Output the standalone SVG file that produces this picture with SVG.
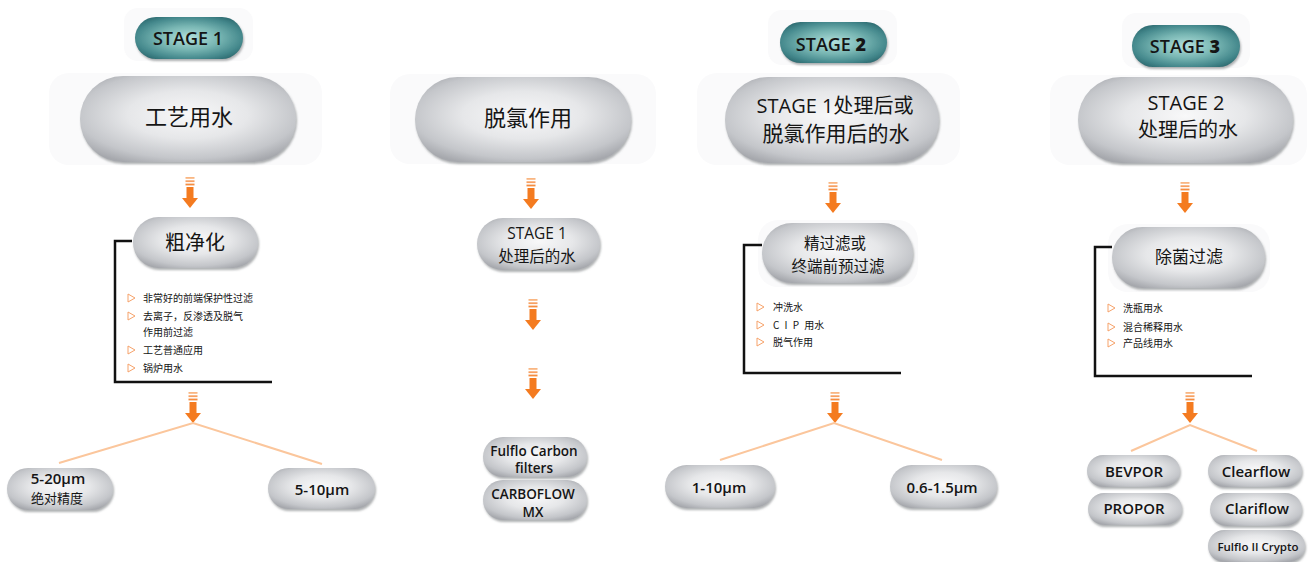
<svg xmlns="http://www.w3.org/2000/svg" width="1311" height="562" viewBox="0 0 1311 562">
<defs>
<radialGradient id="gp" cx="0.5" cy="0.45" r="0.62">
<stop offset="0" stop-color="#f8f8f9"/>
<stop offset="0.45" stop-color="#e6e7e9"/>
<stop offset="0.82" stop-color="#c4c6ca"/>
<stop offset="1" stop-color="#a6a8ad"/>
</radialGradient>
<radialGradient id="gt" cx="0.5" cy="0.5" r="0.62">
<stop offset="0" stop-color="#b2e0dc"/>
<stop offset="0.45" stop-color="#78b6b3"/>
<stop offset="0.8" stop-color="#44888c"/>
<stop offset="1" stop-color="#2a676d"/>
</radialGradient>
<filter id="sh" x="-10%" y="-20%" width="120%" height="150%">
<feDropShadow dx="1" dy="2" stdDeviation="1.2" flood-color="#6d6f73" flood-opacity="0.55"/>
</filter>
<g id="arr">
<rect x="-4.5" y="0" width="9" height="1.8" fill="#f9b682"/>
<rect x="-4.5" y="3.3" width="9" height="1.8" fill="#f7a062"/>
<rect x="-4.5" y="6.6" width="9" height="1.8" fill="#f58c3f"/>
<rect x="-3.5" y="10" width="7" height="12" fill="#f47b20"/>
<polygon points="-8,21 8,21 0,31" fill="#f47b20"/>
</g>
<polygon id="tri" points="0,-4 0,4 7,0" fill="none" stroke="#f6a26a" stroke-width="1"/>
</defs>
<style>
.bg{fill:#fafafb}
.p{fill:url(#gp);filter:url(#sh)}
.t{fill:url(#gt);filter:url(#sh)}
text{fill:#151515;text-anchor:middle;font-family:"Open Sans","Noto Sans CJK SC",sans-serif}
.cj{font-family:"Noto Sans CJK SC","Open Sans",sans-serif}
.b{font-weight:600}
.li{font-size:10px;text-anchor:start;font-family:"Noto Sans CJK SC",sans-serif}
.br{fill:none;stroke:#111;stroke-width:2.5}
.ln{stroke:#fbc69c;stroke-width:2;fill:none}
</style>

<!-- Column 1 -->
<g id="stage1">
<rect class="bg" x="124" y="8" width="129" height="53" rx="14"/>
<rect class="t" x="135" y="17" width="108" height="42" rx="21"/>
<text class="b" x="188" y="45" font-size="18">STAGE 1</text>
</g>
<g id="n-process-water">
<rect class="bg" x="49" y="73" width="273" height="92" rx="20"/>
<rect class="p" x="80" y="76" width="216" height="86" rx="43"/>
<text class="cj" x="189" y="125" font-size="22">工艺用水</text>
</g>
<g id="n-coarse">
<rect class="p" x="133" y="217" width="125" height="51" rx="25.5"/>
<text class="cj" x="195" y="250" font-size="20">粗净化</text>
</g>
<g id="list1">
<use href="#tri" x="128" y="298"/>
<text class="li" x="143" y="302">非常好的前端保护性过滤</text>
<use href="#tri" x="128" y="316"/>
<text class="li" x="143" y="320">去离子，反渗透及脱气</text>
<text class="li" x="143" y="336">作用前过滤</text>
<use href="#tri" x="128" y="350"/>
<text class="li" x="143" y="354">工艺普通应用</text>
<use href="#tri" x="128" y="368"/>
<text class="li" x="143" y="372">锅炉用水</text>
</g>
<g id="n-5-20">
<rect class="p" x="7" y="468" width="106" height="42" rx="21"/>
<text class="b" x="58" y="484" font-size="15">5-20μm</text>
<text class="cj" x="57" y="503" font-size="13">绝对精度</text>
</g>
<g id="n-5-10">
<rect class="p" x="268" y="468" width="107" height="41" rx="20.5"/>
<text class="b" x="322" y="495" font-size="15">5-10μm</text>
</g>

<!-- Column 2 -->
<g id="n-dechlor">
<rect class="bg" x="390" y="74" width="266" height="90" rx="20"/>
<rect class="p" x="415" y="77" width="216" height="85" rx="42.5"/>
<text class="cj" x="528" y="126" font-size="22">脱氯作用</text>
</g>
<g id="n-stage1-water">
<rect class="p" x="477" y="218" width="123" height="52" rx="26"/>
<text x="537" y="239" font-size="15.5">STAGE 1</text>
<text class="cj" x="537" y="262" font-size="15.5">处理后的水</text>
</g>
<g id="n-fulflo-carbon">
<rect class="p" x="483" y="437" width="104" height="40" rx="20"/>
<text class="b" x="534" y="456" font-size="13.5">Fulflo Carbon</text>
<text class="b" x="534" y="473" font-size="13.5">filters</text>
</g>
<g id="n-carboflow">
<rect class="p" x="483" y="480" width="104" height="40" rx="20"/>
<text class="b" x="533" y="499" font-size="13.5">CARBOFLOW</text>
<text class="b" x="533" y="517" font-size="13.5">MX</text>
</g>

<!-- Column 3 -->
<g id="stage2">
<rect class="bg" x="768" y="10" width="129" height="55" rx="14"/>
<rect class="t" x="780" y="22" width="107" height="41" rx="20.5"/>
<text class="b" x="831" y="51" font-size="18">STAGE <tspan font-weight="800">2</tspan></text>
</g>
<g id="n-stage1-or-dechlor">
<rect class="bg" x="697" y="73" width="263" height="92" rx="20"/>
<rect class="p" x="725" y="77" width="214" height="86" rx="43"/>
<text x="835" y="113" font-size="20">STAGE 1<tspan class="cj">处理后或</tspan></text>
<text class="cj" x="836" y="141" font-size="21">脱氯作用后的水</text>
</g>
<g id="n-fine">
<rect class="bg" x="758" y="220" width="160" height="67" rx="20"/>
<rect class="p" x="762" y="223" width="151" height="60" rx="30"/>
<text class="cj" x="835" y="249" font-size="15.5">精过滤或</text>
<text class="cj" x="838" y="272" font-size="15.5">终端前预过滤</text>
</g>
<g id="list2">
<use href="#tri" x="757" y="307"/>
<text class="li" x="773" y="311">冲洗水</text>
<use href="#tri" x="757" y="325"/>
<text class="li" x="773" y="329" word-spacing="3">C I P 用水</text>
<use href="#tri" x="757" y="342"/>
<text class="li" x="773" y="346">脱气作用</text>
</g>
<g id="n-1-10">
<rect class="p" x="665" y="465" width="110" height="43" rx="21.5"/>
<text class="b" x="719" y="493" font-size="15">1-10μm</text>
</g>
<g id="n-06-15">
<rect class="p" x="890" y="465" width="107" height="43" rx="21.5"/>
<text class="b" x="942" y="493" font-size="15">0.6-1.5μm</text>
</g>

<!-- Column 4 -->
<g id="stage3">
<rect class="bg" x="1122" y="13" width="128" height="55" rx="14"/>
<rect class="t" x="1132" y="25" width="108" height="42" rx="21"/>
<text class="b" x="1185" y="53" font-size="18">STAGE <tspan font-weight="800">3</tspan></text>
</g>
<g id="n-stage2-water">
<rect class="bg" x="1050" y="75" width="257" height="90" rx="20"/>
<rect class="p" x="1078" y="77" width="215" height="86" rx="43"/>
<text x="1186" y="110" font-size="20">STAGE 2</text>
<text class="cj" x="1188" y="137" font-size="20">处理后的水</text>
</g>
<g id="n-sterile">
<rect class="bg" x="1108" y="224" width="162" height="68" rx="20"/>
<rect class="p" x="1112" y="227" width="153" height="61" rx="30.5"/>
<text class="cj" x="1189" y="263" font-size="17">除菌过滤</text>
</g>
<g id="list3">
<use href="#tri" x="1108" y="308"/>
<text class="li" x="1123" y="312">洗瓶用水</text>
<use href="#tri" x="1108" y="327"/>
<text class="li" x="1123" y="331">混合稀释用水</text>
<use href="#tri" x="1108" y="343"/>
<text class="li" x="1123" y="347">产品线用水</text>
</g>
<g id="n-bevpor">
<rect class="p" x="1087" y="455" width="93" height="32" rx="16"/>
<text class="b" x="1134" y="477" font-size="15">BEVPOR</text>
</g>
<g id="n-propor">
<rect class="p" x="1088" y="493" width="94" height="32" rx="16"/>
<text class="b" x="1134" y="514" font-size="15">PROPOR</text>
</g>
<g id="n-clearflow">
<rect class="p" x="1208" y="455" width="94" height="32" rx="16"/>
<text class="b" x="1256" y="477" font-size="15">Clearflow</text>
</g>
<g id="n-clariflow">
<rect class="p" x="1210" y="493" width="92" height="33" rx="16.5"/>
<text class="b" x="1257" y="514" font-size="15">Clariflow</text>
</g>
<g id="n-fulflo-crypto">
<rect class="p" x="1208" y="530" width="97" height="32" rx="16"/>
<text class="b" x="1258" y="551" font-size="11.5">Fulflo II Crypto</text>
</g>

<!-- Connectors -->
<g id="connectors">
<use href="#arr" x="190" y="177"/>
<path class="br" d="M132,241 H115 V382 H272"/>
<use href="#arr" x="193" y="392"/>
<path class="ln" d="M59,463 L193,423 L322,464"/>

<use href="#arr" x="531" y="178"/>
<use href="#arr" x="533" y="299"/>
<use href="#arr" x="533" y="368"/>

<use href="#arr" x="833" y="182"/>
<path class="br" d="M762,245 H744 V373 H901"/>
<use href="#arr" x="835" y="392"/>
<path class="ln" d="M720,460 L834,423 L942,460"/>

<use href="#arr" x="1185" y="182"/>
<path class="br" d="M1112,247 H1095 V376 H1252"/>
<use href="#arr" x="1190" y="392"/>
<path class="ln" d="M1131,451 L1190,425 L1257,451"/>
</g>
</svg>
